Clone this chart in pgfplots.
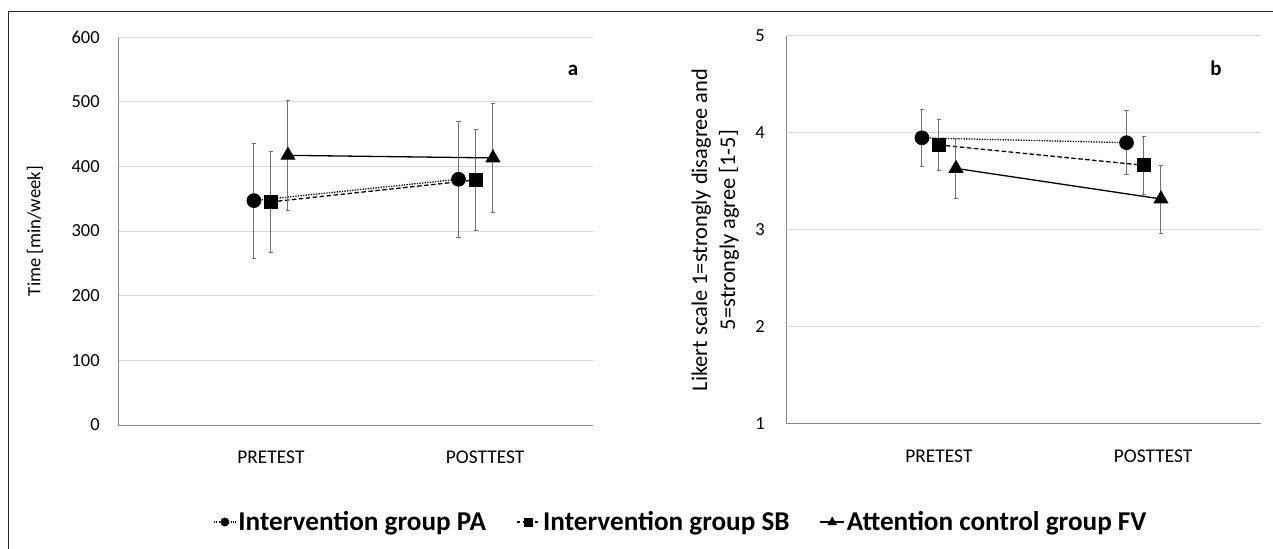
\documentclass[border=0pt]{standalone}
\usepackage{pgfplots}
\pgfplotsset{compat=1.18}
\usepackage{fontspec}
\setmainfont{Carlito}
\definecolor{gridc}{HTML}{D9D9D9}
\definecolor{axc}{HTML}{868686}
\definecolor{errc}{HTML}{707070}
\pgfplotsset{
 mystyle/.style={
  scale only axis, width=475bp, height=388bp,
  xmin=-0.746, xmax=1.571,
  xtick={0,1.045}, xticklabels={PRETEST,POSTTEST},
  axis x line*=bottom, axis y line*=left,
  axis line style={-, draw=axc, line width=1bp},
  major tick length=0pt,
  ymajorgrids, grid style={draw=gridc, line width=1bp},
  /pgf/number format/assume math mode=true,
  tick label style={font=\fontsize{18.5}{22}\selectfont},
  xticklabel style={yshift=-20bp, font=\fontsize{19.5}{22}\selectfont},
  label style={font=\fontsize{18.8}{22}\selectfont},
  clip=false,
 },
 pa/.style={black, line width=1.3bp, dash pattern=on 1.3bp off 1.3bp, mark=*, mark size=6.7bp, mark options={solid}},
 sb/.style={black, line width=1.3bp, dash pattern=on 4.5bp off 2.5bp, mark=square*, mark size=6.3bp, mark options={solid}},
 fv/.style={black, line width=1.3bp, solid, mark=triangle*, mark size=7.5bp},
 err/.style={error bars/.cd, y dir=both, y explicit,
   error bar style={solid, draw=errc, line width=1bp},
   error mark options={rotate=90, draw=errc, mark size=2.2bp, line width=0.8bp, solid}, /pgfplots/.cd},
 legpa/.style={legend image code/.code={\draw[black,line width=1.2bp,dash pattern=on 1.2bp off 1.2bp] (0bp,0bp)--(22bp,0bp); \fill[black] (11bp,0bp) circle (4.2bp);}},
 legsb/.style={legend image code/.code={\draw[black,line width=1.2bp,dash pattern=on 3.5bp off 2.5bp] (0bp,0bp)--(24bp,0bp); \fill[black] (8bp,-4bp) rectangle (16bp,4bp);}},
 legfv/.style={legend image code/.code={\draw[black,line width=1.2bp] (0bp,0bp)--(24bp,0bp); \fill[black] (12bp,5bp) -- (16.5bp,-3bp) -- (7.5bp,-3bp) -- cycle;}},
}
\begin{document}
\fontsize{18.5}{22.5}\selectfont
\begin{tikzpicture}
\path[use as bounding box] (0,0) rectangle (1273bp,549bp);
\draw[line width=1bp, black!85] (8bp,-2bp) -- (8bp,537bp) -- (1275bp,537bp);
\begin{axis}[mystyle, at={(118bp,124bp)}, anchor=south west,
  ymin=0, ymax=600, ytick={0,100,...,600},
  yticklabel style={xshift=-12bp},
  ylabel={Time [min/week]},
  ylabel style={at={(axis description cs:-0.175,0.5)}, anchor=center},
  legend style={at={(1.185,-0.25)}, anchor=center, draw=none, fill=none,
    font=\bfseries\fontsize{27.3}{30}\selectfont, legend columns=3,
    /tikz/every even column/.style={column sep=28bp}},
  legend cell align=left]
\addlegendimage{legpa}\addlegendentry{Intervention group PA}
\addlegendimage{legsb}\addlegendentry{Intervention group SB}
\addlegendimage{legfv}\addlegendentry{Attention control group FV}
\addplot[forget plot, pa, err] coordinates {(-0.083,347) +- (0,89) (0.915,380) +- (0,90)};
\addplot[forget plot, sb, err] coordinates {(0,345) +- (0,78) (1.0,379) +- (0,78)};
\addplot[forget plot, fv, err] coordinates {(0.083,417) +- (0,85) (1.083,413) +- (0,85)};
\node[font=\bfseries\fontsize{21}{24}\selectfont] at (rel axis cs:0.958,0.915) {a};
\end{axis}
\begin{axis}[mystyle, at={(786bp,125bp)}, anchor=south west,
  ymin=1, ymax=5, ytick={1,2,3,4,5},
  yticklabel style={xshift=-15bp},
  ylabel={Likert scale 1=strongly disagree and\\5=strongly agree [1-5]},
  ylabel style={at={(axis description cs:-0.149,0.5)}, anchor=center, align=center, font=\fontsize{22.5}{28}\selectfont}]
\addplot[pa, err] coordinates {(-0.083,3.95) +- (0,0.29) (0.915,3.90) +- (0,0.33)};
\addplot[sb, err] coordinates {(0,3.877) +- (0,0.267) (1.0,3.667) +- (0,0.30)};
\addplot[fv, err] coordinates {(0.083,3.635) +- (0,0.305) (1.083,3.32) +- (0,0.35)};
\node[font=\bfseries\fontsize{21}{24}\selectfont] at (rel axis cs:0.905,0.918) {b};
\end{axis}
\end{tikzpicture}
\end{document}
